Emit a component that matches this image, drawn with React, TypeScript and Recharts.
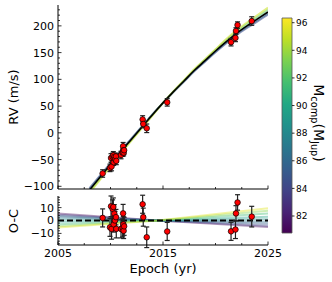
import React from "react";
import {
  ComposedChart,
  ErrorBar,
  Line,
  ReferenceArea,
  Scatter,
  XAxis,
  YAxis,
} from "recharts";

// orbit model (RV, m/s) sampled per year
const modelYears = [
  2008, 2009, 2010, 2011, 2012, 2013, 2014, 2015, 2016, 2017, 2018, 2019, 2020,
  2021, 2022, 2023, 2024, 2025,
];
const modelRV = [
  -107, -83, -59, -35, -12, 11, 34, 56, 77, 97, 117, 135, 153, 170, 186, 200,
  213, 226,
];
// a few posterior draws shown as a colored band around the best fit
const drawPurpleRV = [
  -103.5, -80, -56.5, -33, -10.5, 12, 34.5, 56, 76.5, 96, 115.5, 133, 150.5,
  167, 182.5, 196, 208.5, 221,
];
const drawBlueRV = [
  -105.3, -81.5, -57.8, -34, -11.3, 11.5, 34.3, 56, 76.8, 96.5, 116.3, 134,
  151.8, 168.5, 184.3, 198, 210.8, 223.5,
];
const drawGreenRV = [
  -109.8, -85.4, -61, -36.6, -13.2, 10.2, 33.6, 56, 77.4, 97.8, 118.2, 136.6,
  155, 172.4, 188.8, 203.2, 216.6, 230,
];
const drawYellowRV = [
  -112.6, -87.8, -63, -38.2, -14.4, 8.8, 32.2, 56, 77.8, 98.6, 119.4, 137.4,
  156.2, 174.8, 191.6, 206.4, 220.2, 234,
];
const topDrawColors = ["#3e4989", "#31688e", "#5ec962", "#c8e020"];

// residual band: draws at 2005, 2014.5, 2025
const bandYears = [2005, 2014.5, 2025];
const bandStart = [5.5, 4.5, 3.5, 2.5, 1, -1, -3, -4.5, -5.5];
const bandEnd = [-5, -4, -2.5, -1, 1, 3, 5.5, 7.5, 9.5];
const bandColors = [
  "#46085c",
  "#433e85",
  "#355f8d",
  "#2c728e",
  "#21918c",
  "#1f9f88",
  "#3fbc73",
  "#84d44b",
  "#dfe318",
];

// observations
const obsTime = [
  2009.25, 2009.95, 2010.05, 2010.1, 2010.2, 2010.27, 2010.3, 2010.36, 2010.43,
  2010.52, 2010.55, 2011.0, 2011.16, 2011.2, 2011.22, 2011.25, 2011.3, 2013.06,
  2013.12, 2013.45, 2015.4, 2021.48, 2021.9, 2021.95, 2022.1, 2023.45,
];
const obsRV = [
  -76, -65.5, -47, -63, -45, -42, -55, -45, -49, -44, -52.5, -41.5, -37, -25,
  -33, -37, -32.5, 25, 16.5, 8.5, 57, 169.5, 177.5, 190.5, 201.5, 209,
];
const obsResid = [
  2, -5.3, 11, -6.5, 9, 10.5, -3, 5.3, 0, 2.6, -6.5, -6.5, -5.7, 5.5, -3, -8,
  -4.5, 12.6, 2.6, -13, -8.5, -8.4, -7, 5.5, 14, 3,
];
const obsErr = [
  7, 7, 8, 8, 7, 7, 6, 7, 7, 6, 7, 7, 7, 7, 6, 6, 7, 7, 7, 8, 7, 7, 7, 6, 6, 8,
];

const rvMajor = [-100, -50, 0, 50, 100, 150, 200];
const ocMajor = [-10, 0, 10];
const yearMajor = [2005, 2015, 2025];
const massTicks = [82, 84, 86, 88, 90, 92, 94, 96];

const rvDomain = [-105, 239];
const ocDomain = [-19, 19];
const yearDomain = [2005, 2025];
const massDomain = [80.77, 96.34];

const steps = (from: number, to: number, step: number) => {
  const out: number[] = [];
  for (let v = from; v <= to + 1e-9; v += step) out.push(+v.toFixed(3));
  return out;
};
const rvTicks = steps(-100, 230, 10);
const ocTicks = steps(-18, 18, 2);
const yearTicks = steps(2005, 2025, 2.5);

const modelData = modelYears.map((t, i) => ({ t, rv: modelRV[i] }));
const topDraws = [drawPurpleRV, drawBlueRV, drawGreenRV, drawYellowRV].map(
  (arr) => modelYears.map((t, i) => ({ t, rv: arr[i] })),
);
const bandData = bandStart.map((s, i) => [
  { t: bandYears[0], r: s },
  { t: bandYears[1], r: 0 },
  { t: bandYears[2], r: bandEnd[i] },
]);
const zeroData = [
  { t: yearDomain[0], r: 0 },
  { t: yearDomain[1], r: 0 },
];
const obs = obsTime.map((t, i) => ({
  t,
  rv: obsRV[i],
  r: obsResid[i],
  err: obsErr[i],
}));

const FONT = "'DejaVu Sans', sans-serif";
const fmt = (v: number) => (v < 0 ? `\u2212${Math.abs(v)}` : `${v}`);
const isMajor = (v: number, majors: number[]) =>
  majors.some((m) => Math.abs(m - v) < 1e-6);

function tickRenderer(
  side: "left" | "right" | "top" | "bottom",
  majors: number[],
  labels: boolean,
) {
  return (props: any) => {
    const { x, y, payload } = props;
    const v = payload.value;
    const major = isMajor(v, majors);
    const len = major ? 3.5 : 2;
    let line;
    if (side === "left") line = <line x1={x} y1={y} x2={x + len} y2={y} />;
    else if (side === "right") line = <line x1={x} y1={y} x2={x - len} y2={y} />;
    else if (side === "top") line = <line x1={x} y1={y} x2={x} y2={y + len} />;
    else line = <line x1={x} y1={y} x2={x} y2={y - len} />;
    return (
      <g>
        <g stroke="#000" strokeWidth={0.8}>{line}</g>
        {labels && major && side === "left" && (
          <text x={x - 4} y={y} dy="0.36em" textAnchor="end" fontSize={11} fill="#000">
            {fmt(v)}
          </text>
        )}
        {labels && major && side === "bottom" && (
          <text x={x} y={y + 11.5} textAnchor="middle" fontSize={11} fill="#000">
            {v}
          </text>
        )}
      </g>
    );
  };
}

const dotShape = (p: any) => (
  <circle cx={p.cx} cy={p.cy} r={2.8} fill="#ff0000" stroke="#000" strokeWidth={0.7} />
);

function Frame({ yTicks, yMajors, yDomain, labelsX }: any) {
  return [
    <XAxis
      key="xb"
      xAxisId={0}
      dataKey="t"
      type="number"
      domain={yearDomain}
      allowDataOverflow
      ticks={yearTicks}
      interval={0}
      tickSize={0}
      tickMargin={0}
      tickLine={false}
      axisLine={{ stroke: "#000", strokeWidth: 1 }}
      height={labelsX ? 37 : 3}
      tick={tickRenderer("bottom", yearMajor, labelsX)}
    />,
    <XAxis
      key="xt"
      xAxisId="top"
      orientation="top"
      dataKey="t"
      type="number"
      domain={yearDomain}
      allowDataOverflow
      ticks={yearTicks}
      interval={0}
      tickSize={0}
      tickMargin={0}
      tickLine={false}
      axisLine={{ stroke: "#000", strokeWidth: 1 }}
      height={0}
      tick={tickRenderer("top", yearMajor, false)}
    />,
    <YAxis
      key="yl"
      yAxisId={0}
      type="number"
      domain={yDomain}
      allowDataOverflow
      ticks={yTicks}
      interval={0}
      tickSize={0}
      tickMargin={0}
      tickLine={false}
      axisLine={{ stroke: "#000", strokeWidth: 1 }}
      width={40}
      tick={tickRenderer("left", yMajors, true)}
    />,
    <YAxis
      key="yr"
      yAxisId="right"
      orientation="right"
      type="number"
      domain={yDomain}
      allowDataOverflow
      ticks={yTicks}
      interval={0}
      tickSize={0}
      tickMargin={0}
      tickLine={false}
      axisLine={{ stroke: "#000", strokeWidth: 1 }}
      width={0}
      tick={tickRenderer("right", yMajors, false)}
    />,
  ];
}

function RVPanel() {
  return (
    <ComposedChart width={275} height={192} margin={{ top: 5, right: 7, left: 18, bottom: 0 }}>
      {Frame({ yTicks: rvTicks, yMajors: rvMajor, yDomain: rvDomain, labelsX: false })}
      {topDraws.map((d, i) => (
        <Line
          key={i}
          data={d}
          dataKey="rv"
          type="monotone"
          stroke={topDrawColors[i]}
          strokeWidth={2}
          strokeOpacity={0.55}
          dot={false}
          activeDot={false}
          isAnimationActive={false}
        />
      ))}
      <Line
        data={modelData}
        dataKey="rv"
        type="monotone"
        stroke="#000"
        strokeWidth={1.6}
        dot={false}
        activeDot={false}
        isAnimationActive={false}
      />
      <Scatter data={obs} dataKey="rv" shape={dotShape} isAnimationActive={false}>
        <ErrorBar dataKey="err" direction="y" width={2.5} stroke="#222" strokeWidth={1.2} />
      </Scatter>
    </ComposedChart>
  );
}

function ResidualPanel() {
  return (
    <ComposedChart width={290} height={92} margin={{ top: 6, right: 22, left: 18, bottom: 0 }}>
      {Frame({ yTicks: ocTicks, yMajors: ocMajor, yDomain: ocDomain, labelsX: true })}
      {bandData.map((d, i) => (
        <Line
          key={i}
          data={d}
          dataKey="r"
          type="linear"
          stroke={bandColors[i]}
          strokeWidth={2}
          strokeOpacity={0.4}
          dot={false}
          activeDot={false}
          isAnimationActive={false}
        />
      ))}
      <Line
        data={zeroData}
        dataKey="r"
        type="linear"
        stroke="#000"
        strokeWidth={1.8}
        strokeDasharray="6 3"
        dot={false}
        activeDot={false}
        isAnimationActive={false}
      />
      <Scatter data={obs} dataKey="r" shape={dotShape} isAnimationActive={false}>
        <ErrorBar dataKey="err" direction="y" width={2.5} stroke="#222" strokeWidth={1.2} />
      </Scatter>
    </ComposedChart>
  );
}

const viridisStops = [
  "#440154", "#482475", "#414487", "#355f8d", "#2a788e", "#21918c",
  "#22a884", "#44bf70", "#7ad151", "#bddf26", "#fde725",
];

function Colorbar() {
  return (
    <ComposedChart
      width={50}
      height={250}
      data={[{ x: 0 }, { x: 1 }]}
      margin={{ top: 18, right: 0, left: 12, bottom: 17 }}
    >
      <defs>
        <linearGradient id="viridis" x1="0" y1="1" x2="0" y2="0">
          {viridisStops.map((c, i) => (
            <stop key={i} offset={i / (viridisStops.length - 1)} stopColor={c} />
          ))}
        </linearGradient>
      </defs>
      <XAxis dataKey="x" type="number" domain={[0, 1]} hide />
      <YAxis
        orientation="right"
        type="number"
        domain={massDomain}
        allowDataOverflow
        ticks={massTicks}
        interval={0}
        width={28}
        tickSize={2.5}
        tickMargin={1.5}
        axisLine={false}
        tickLine={{ stroke: "#000", strokeWidth: 0.8 }}
        tick={{ fontSize: 9, fill: "#000" }}
      />
      <ReferenceArea
        x1={0}
        x2={1}
        y1={massDomain[0]}
        y2={massDomain[1]}
        fill="url(#viridis)"
        fillOpacity={1}
        stroke="#555"
        strokeWidth={0.8}
      />
    </ComposedChart>
  );
}

const label: React.CSSProperties = {
  position: "absolute",
  whiteSpace: "nowrap",
  fontSize: 13,
  lineHeight: 1,
  color: "#000",
};

export default function App() {
  return (
    <div
      style={{
        position: "absolute",
        left: 0,
        top: 0,
        width: 332,
        height: 282,
        background: "#fff",
        fontFamily: FONT,
        overflow: "hidden",
      }}
    >
      <div style={{ position: "absolute", left: 0, top: 0 }}>
        <RVPanel />
      </div>
      <div style={{ position: "absolute", left: 0, top: 190 }}>
        <ResidualPanel />
      </div>
      <div style={{ position: "absolute", left: 270, top: 0 }}>
        <Colorbar />
      </div>
      <div style={{ ...label, left: 12.5, top: 97, transform: "translate(-50%,-50%) rotate(-90deg)" }}>
        RV (m/s)
      </div>
      <div style={{ ...label, left: 12.5, top: 221, transform: "translate(-50%,-50%) rotate(-90deg)" }}>
        O-C
      </div>
      <div style={{ ...label, left: 163, top: 268, transform: "translate(-50%,-50%)" }}>
        Epoch (yr)
      </div>
      <div
        style={{
          ...label,
          fontSize: 14,
          left: 318,
          top: 123,
          transform: "translate(-50%,-50%) rotate(90deg)",
        }}
      >
        M
        <sub style={{ fontSize: "70%", verticalAlign: "-0.3em" }}>comp</sub>
        (M
        <sub style={{ fontSize: "70%", verticalAlign: "-0.3em" }}>Jup</sub>)
      </div>
    </div>
  );
}
